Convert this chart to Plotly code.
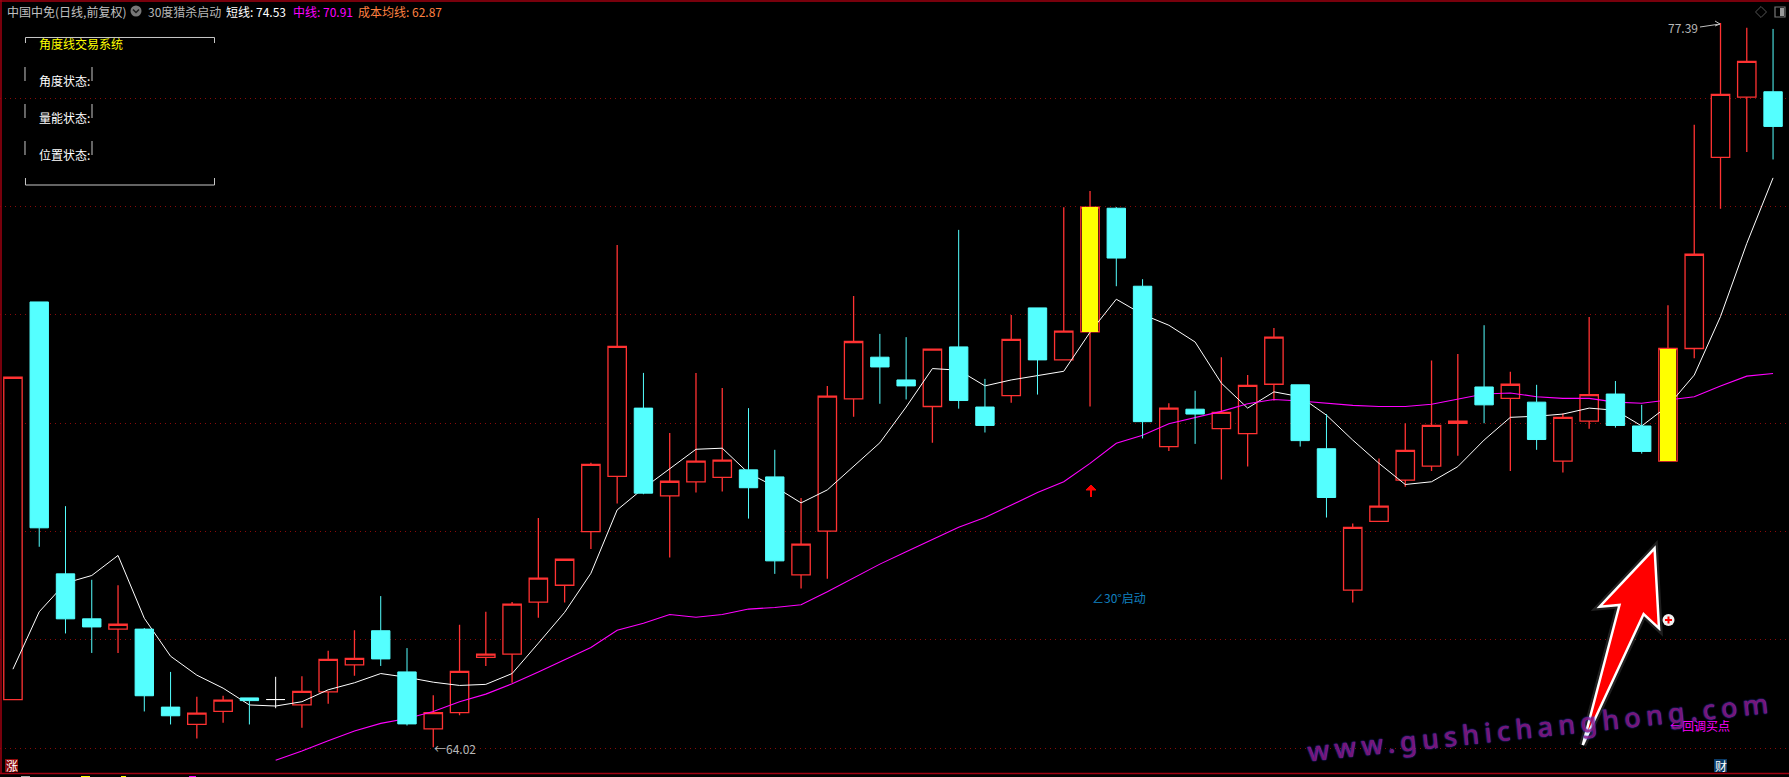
import plotly.graph_objects as go

W, H = 1789, 777
FONT = "Noto Sans CJK SC"

opens = [64.90,72.24,67.22,66.39,66.20,66.20,64.76,64.44,64.68,64.93,64.90,64.80,65.04,65.54,66.17,65.41,64.36,64.66,65.68,65.74,
         66.70,67.01,68.00,69.02,70.28,68.66,68.92,69.00,69.14,69.01,67.20,68.01,70.45,71.22,70.80,70.31,71.41,70.30,70.51,72.13,
         71.17,71.69,73.97,72.53,69.57,70.26,69.90,69.81,70.72,70.71,69.53,66.92,68.19,68.95,69.21,70.00,70.67,70.46,70.39,69.30,
         70.04,70.54,69.95,69.30,71.38,74.91,76.02,76.12]
closes = [70.85,68.07,66.39,66.24,66.29,64.97,64.60,64.65,64.89,64.88,64.90,65.05,65.64,65.66,65.65,64.45,64.66,65.42,65.74,66.66,
          67.14,67.49,69.24,71.42,68.71,68.93,69.30,69.32,68.81,67.46,67.77,70.50,71.51,71.04,70.69,71.37,70.42,69.96,71.55,71.17,
          71.70,73.99,73.05,70.03,70.28,70.17,70.20,70.70,71.59,69.68,68.63,68.08,68.47,69.50,69.96,70.04,70.34,70.72,69.70,70.11,
          70.53,69.96,69.48,71.38,73.12,76.07,76.68,75.48]
highs = [70.85,72.24,68.47,67.11,67.01,66.22,65.41,64.95,64.97,64.93,65.32,65.33,65.80,66.18,66.81,65.85,64.98,66.28,66.52,66.70,
         68.25,67.49,69.27,73.29,70.93,69.82,70.93,70.65,70.28,69.51,68.62,70.69,72.35,71.65,71.59,71.37,73.57,70.82,72.00,72.13,
         73.99,74.29,73.99,72.66,70.37,70.60,71.22,70.89,71.76,70.71,70.17,68.15,69.35,70.00,71.16,71.28,71.81,70.95,70.71,70.18,
         71.96,70.78,70.34,72.18,75.51,77.39,77.30,77.28]
lows = [64.90,67.72,66.12,65.76,65.76,64.68,64.44,64.18,64.47,64.44,64.74,64.38,64.82,65.34,65.52,64.42,64.02,64.61,65.52,65.21,
        66.41,66.69,67.68,68.52,68.69,67.52,68.72,68.74,68.24,67.22,66.95,67.13,70.12,70.36,70.44,69.64,70.27,69.83,70.38,70.53,
        71.17,70.31,72.53,69.72,69.49,69.62,68.96,69.20,70.42,69.57,68.26,66.69,68.19,68.83,69.12,69.40,70.00,69.12,69.51,69.09,
        69.90,69.92,69.44,69.30,71.20,73.96,75.01,74.87]
short_line = [65.46,66.52,67.05,67.19,67.56,66.40,65.70,65.35,65.11,64.80,64.78,64.86,65.08,65.21,65.38,65.31,65.22,65.16,65.18,65.38,
              65.94,66.51,67.23,68.40,68.80,69.16,69.52,69.54,69.08,68.83,68.53,68.77,69.20,69.64,70.30,71.01,70.98,70.69,70.80,70.88,
              70.96,71.68,72.29,72.01,71.81,71.50,70.74,70.28,70.58,70.49,70.15,69.69,69.26,68.87,68.92,69.20,69.69,70.11,70.13,70.17,
              70.28,70.24,69.95,70.32,70.89,71.97,73.32,74.53]
mid_line_start = 10
mid_line = [63.78,63.95,64.14,64.32,64.46,64.55,64.68,64.86,65.00,65.19,
            65.41,65.64,65.86,66.18,66.31,66.47,66.42,66.47,66.57,66.60,66.65,66.89,67.14,67.40,67.63,67.86,68.08,68.26,68.49,68.72,
            68.92,69.26,69.63,69.78,69.99,70.11,70.22,70.36,70.44,70.41,70.37,70.33,70.31,70.31,70.35,70.45,70.54,70.56,70.49,70.46,
            70.46,70.39,70.37,70.43,70.49,70.69,70.87,70.92]
doji_white = [10]
yellow_days = [41, 63]

RED, CYAN = "#FF3232", "#54FFFF"
days = list(range(len(opens)))


def pick(idx):
    return dict(x=idx, open=[opens[i] for i in idx], high=[highs[i] for i in idx],
                low=[lows[i] for i in idx], close=[closes[i] for i in idx])


red_idx = [i for i in days if closes[i] > opens[i]]
cyan_idx = [i for i in days if closes[i] < opens[i]]


def candle(idx, color, fill, yaxis="y", width=1):
    side = dict(line=dict(color=color, width=width), fillcolor=fill)
    return go.Candlestick(**pick(idx), increasing=side, decreasing=side, yaxis=yaxis,
                          hoverinfo="skip", showlegend=False, whiskerwidth=0)


fig = go.Figure()
fig.add_trace(candle(red_idx, RED, "#000000", width=1.3))
fig.add_trace(candle(doji_white, "#FFFFFF", "#FFFFFF"))
fig.add_trace(go.Scatter(x=days, y=short_line, mode="lines", line=dict(color="#FFFFFF", width=1),
                         hoverinfo="skip", showlegend=False))
fig.add_trace(go.Scatter(x=[mid_line_start + i for i in range(len(mid_line))], y=mid_line, mode="lines",
                         line=dict(color="#FF00FF", width=1.1), hoverinfo="skip", showlegend=False))
fig.add_trace(candle(cyan_idx, CYAN, CYAN, yaxis="y2"))
fig.add_trace(go.Bar(x=yellow_days, y=[closes[i] - opens[i] for i in yellow_days],
                     base=[opens[i] for i in yellow_days], width=0.58, yaxis="y2",
                     marker=dict(color="#FFFF00", line=dict(width=0)), hoverinfo="skip", showlegend=False))


def X(px):
    return px / W


def Y(py):
    return 1 - py / H


def path(points, close=False):
    s = "M" + " L".join(f"{X(a):.5f},{Y(b):.5f}" for a, b in points)
    return s + (" Z" if close else "")


shapes = []


def line(points, color, width=1, fill=None, close=False, layer="above", opacity=1):
    shapes.append(dict(type="path", xref="paper", yref="paper", path=path(points, close), layer=layer,
                       line=dict(color=color, width=width), fillcolor=fill, opacity=opacity))


def rect(x0, y0, x1, y1, fill, color=None, width=0):
    shapes.append(dict(type="rect", xref="paper", yref="paper", x0=X(x0), x1=X(x1), y0=Y(y0), y1=Y(y1),
                       fillcolor=fill, line=dict(color=color or fill, width=width), layer="above"))


annotations = []


def txt(s, x, y, color, size=12, anchor="left", **kw):
    annotations.append(dict(text=s, x=X(x), y=Y(y), xref="paper", yref="paper", xanchor=anchor, yanchor="middle",
                            showarrow=False, borderpad=0, font=dict(family=FONT, size=size, color=color), **kw))


# frame
line([(1, 0), (1, 774)], "#A00010", 1.5)
line([(0, 1), (W, 1)], "#A00010", 1.5)
line([(0, 773.5), (W, 773.5)], "#A00010", 1.5)
for a, b, c in [(21, 30, "#AAAAAA"), (81, 90, "#FFFF00"), (121, 126, "#FFFF00"), (189, 196, "#FF00FF")]:
    rect(a, 776, b, 777, c)

# header
txt("中国中免(日线,前复权)", 6, 11, "#C0C0C0", 12)
shapes.append(dict(type="circle", xref="paper", yref="paper", x0=X(130.5), x1=X(141.5), y0=Y(16.5), y1=Y(5.5),
                   fillcolor="#777777", line=dict(width=0), layer="above"))
line([(133, 9.5), (136, 12.5), (139, 9.5)], "#1A1A1A", 1.5)
txt("30度猎杀启动", 147, 11, "#B8B8B8", 12)
txt("短线: 74.53", 225, 11, "#FFFFFF", 12)
txt("中线: 70.91", 292, 11, "#FF00FF", 12)
txt("成本均线: 62.87", 357, 11, "#FF8040", 12)

# top right icons
line([(1761, 6.5), (1766.5, 12), (1761, 17.5), (1755.5, 12)], "#555555", 1, close=True)
shapes.append(dict(type="rect", xref="paper", yref="paper", x0=X(1775), x1=X(1785), y0=Y(17), y1=Y(7),
                   line=dict(color="#777777", width=1.2), fillcolor="#000000", layer="above"))
rect(1780, 8, 1784, 16, "#999999")

# info box
BOX = "#C8C8C8"
line([(25.5, 43), (25.5, 37.5), (214.5, 37.5), (214.5, 43)], BOX, 1)
line([(25.5, 178), (25.5, 185), (214.5, 185), (214.5, 178)], BOX, 1)
for y0 in (67, 104, 141):
    line([(25, y0), (25, y0 + 14)], BOX, 1)
    line([(92, y0), (92, y0 + 14)], BOX, 1)
txt("角度线交易系统", 38, 44, "#FFFF00", 12)
txt("角度状态:", 38, 80.5, "#FFFFFF", 12)
txt("量能状态:", 38, 117.5, "#FFFFFF", 12)
txt("位置状态:", 38, 154.5, "#FFFFFF", 12)

# price labels
txt("77.39", 1667, 28, "#B8B8B8", 12)
line([(1700, 27), (1720, 24)], "#C0C0C0", 1)
line([(1715, 21), (1720, 24), (1715, 26)], "#C0C0C0", 1)
txt("←64.02", 433, 748, "#B8B8B8", 12)

# signals
line([(1091, 497), (1091, 489)], "#FF0000", 2)
line([(1086, 490), (1091, 485), (1096, 490)], "#FF0000", 1, fill="#FF0000", close=True)
txt("∠30°启动", 1091, 597, "#1080C0", 12)
txt("←回调买点", 1669, 725.5, "#FF00FF", 12)

# badges
rect(5, 759, 18, 772, "#8B0A0A")
txt("涨", 11.5, 765.5, "#FFFFFF", 12, "center")
rect(1714, 759, 1727, 772, "#0A3A66")
txt("财", 1720.5, 765.5, "#FFFFFF", 12, "center")

# big arrow
ARROW = [(1582.8, 745), (1619.5, 605), (1599.6, 606.7), (1654.6, 548.3), (1659, 628.3), (1643.6, 614)]
line(ARROW, "#FFFFFF", 7, close=True, opacity=0.12)
line(ARROW, "#FFFFFF", 2.5, fill="#FF0000", close=True)
shapes.append(dict(type="circle", xref="paper", yref="paper", x0=X(1662.5), x1=X(1674.5), y0=Y(626), y1=Y(614),
                   fillcolor="#F0F0F0", line=dict(width=0), layer="above"))
line([(1665, 620), (1672, 620)], "#FF0000", 2)
line([(1668.5, 616.5), (1668.5, 623.5)], "#FF0000", 2)

# watermark
annotations.append(dict(text='<span style="letter-spacing:5.3px">www.gushichanghong.com</span>',
                        x=X(1540), y=Y(726), xref="paper", yref="paper", xanchor="center", yanchor="middle",
                        showarrow=False, textangle=-6, opacity=0.85, borderpad=0,
                        font=dict(family="Noto Sans", size=27, color="#8C1A8C", weight=500,
                                  shadow="0 0 1px #3A3AD0, 0 0 2px #3A3AD0")))

YR = [63.470, 77.814]
fig.update_layout(
    width=W, height=H, margin=dict(l=0, r=0, t=0, b=0), autosize=False,
    paper_bgcolor="#000000", plot_bgcolor="#000000", showlegend=False,
    boxmode="overlay", boxgap=0.3, boxgroupgap=0, bargap=0,
    xaxis=dict(range=[-0.493, 67.607], visible=False, rangeslider=dict(visible=False), fixedrange=True),
    yaxis=dict(range=YR, dtick=2, tick0=64, showgrid=True, gridcolor="#8A0A0A", gridwidth=1, griddash="1px,4px",
               zeroline=False, showticklabels=False, ticks="", showline=False, fixedrange=True),
    yaxis2=dict(range=YR, overlaying="y", visible=False, fixedrange=True),
    shapes=shapes, annotations=annotations,
)
fig.write_html("out.html", config=dict(displayModeBar=False),
               post_script="document.body.style.margin='0';document.documentElement.style.overflow='hidden';document.body.style.background='#000';")
